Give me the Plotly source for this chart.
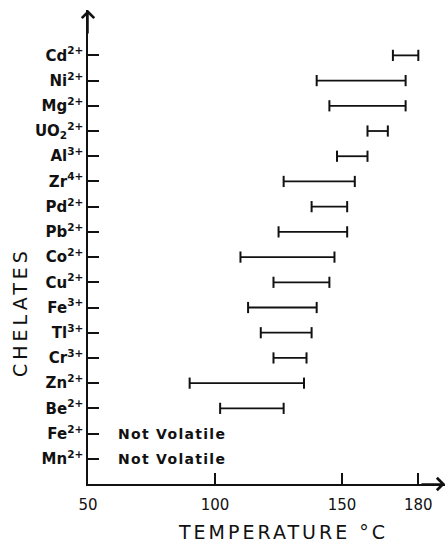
import plotly.graph_objects as go

# Data (bottom to top)
chelates = ["Mn", "Fe2", "Be", "Zn", "Cr", "Tl", "Fe3", "Cu", "Co", "Pb", "Pd", "Zr", "Al", "UO2", "Mg", "Ni", "Cd"]
labels = ["Mn<sup>2+</sup>", "Fe<sup>2+</sup>", "Be<sup>2+</sup>", "Zn<sup>2+</sup>", "Cr<sup>3+</sup>",
          "Tl<sup>3+</sup>", "Fe<sup>3+</sup>", "Cu<sup>2+</sup>", "Co<sup>2+</sup>", "Pb<sup>2+</sup>",
          "Pd<sup>2+</sup>", "Zr<sup>4+</sup>", "Al<sup>3+</sup>", "UO<sub>2</sub><sup>2+</sup>",
          "Mg<sup>2+</sup>", "Ni<sup>2+</sup>", "Cd<sup>2+</sup>"]
temp_low = [None, None, 102, 90, 123, 118, 113, 123, 110, 125, 138, 127, 148, 160, 145, 140, 170]
temp_high = [None, None, 127, 135, 136, 138, 140, 145, 147, 152, 152, 155, 160, 168, 175, 175, 180]
not_volatile = ["Fe2", "Mn"]
x_ticks = [50, 100, 150, 180]

FONT = "DejaVu Sans"
INK = "#111111"

xs, ys = [], []
for c, lo, hi in zip(chelates, temp_low, temp_high):
    if lo is None:
        continue
    xs += [lo, hi, None]
    ys += [c, c, None]

fig = go.Figure()
fig.add_trace(go.Scatter(
    x=xs, y=ys, mode="lines+markers",
    line=dict(color=INK, width=1.8),
    marker=dict(symbol="line-ns-open", size=8, line=dict(color=INK, width=2)),
    showlegend=False, hoverinfo="skip",
))

for c in not_volatile:
    fig.add_annotation(x=61, y=c, xref="x", yref="y",
                       text='<span style="letter-spacing:1.3px"><b>Not Volatile</b></span>',
                       showarrow=False, xanchor="left", yanchor="middle",
                       font=dict(family=FONT, size=14, color=INK))

fig.update_xaxes(range=[50, 190.5], tickvals=x_ticks, ticktext=[str(v) for v in x_ticks],
                 ticks="inside", ticklen=11, tickwidth=1.5, tickcolor=INK, ticklabelstandoff=6,
                 showline=True, linecolor=INK, linewidth=1.5, showgrid=False, zeroline=False,
                 tickfont=dict(family=FONT, size=15, color=INK))
fig.update_yaxes(type="category", categoryorder="array", categoryarray=chelates,
                 range=[-1, 17.8], tickvals=chelates, ticktext=["<b>%s</b>" % l for l in labels],
                 ticks="inside", ticklen=11, tickwidth=1.5, tickcolor=INK,
                 showline=True, linecolor=INK, linewidth=1.5, showgrid=False, zeroline=False,
                 tickfont=dict(family=FONT, size=15, color=INK))

# axis arrowheads
fig.add_annotation(x=1, y=0, xref="paper", yref="paper", ax=-25, ay=0, text="",
                   showarrow=True, arrowhead=4, arrowsize=1.6, arrowwidth=1.5, arrowcolor=INK)
fig.add_annotation(x=0, y=1, xref="paper", yref="paper", ax=0, ay=25, text="",
                   showarrow=True, arrowhead=4, arrowsize=1.6, arrowwidth=1.5, arrowcolor=INK)

# axis titles
fig.add_annotation(x=0, y=0.363, xref="paper", yref="paper", xshift=-81, textangle=-90,
                   text='<span style="letter-spacing:4px">CHELATES</span>', showarrow=False,
                   font=dict(family=FONT, size=19, color=INK))
fig.add_annotation(x=0.545, y=0, xref="paper", yref="paper", yshift=-61,
                   text='<span style="letter-spacing:3px">TEMPERATURE °C</span>', showarrow=False,
                   font=dict(family=FONT, size=19, color=INK))

fig.update_layout(width=448, height=543, margin=dict(l=88, r=3, t=10, b=59),
                  paper_bgcolor="white", plot_bgcolor="white")
fig.write_html("out.html")
